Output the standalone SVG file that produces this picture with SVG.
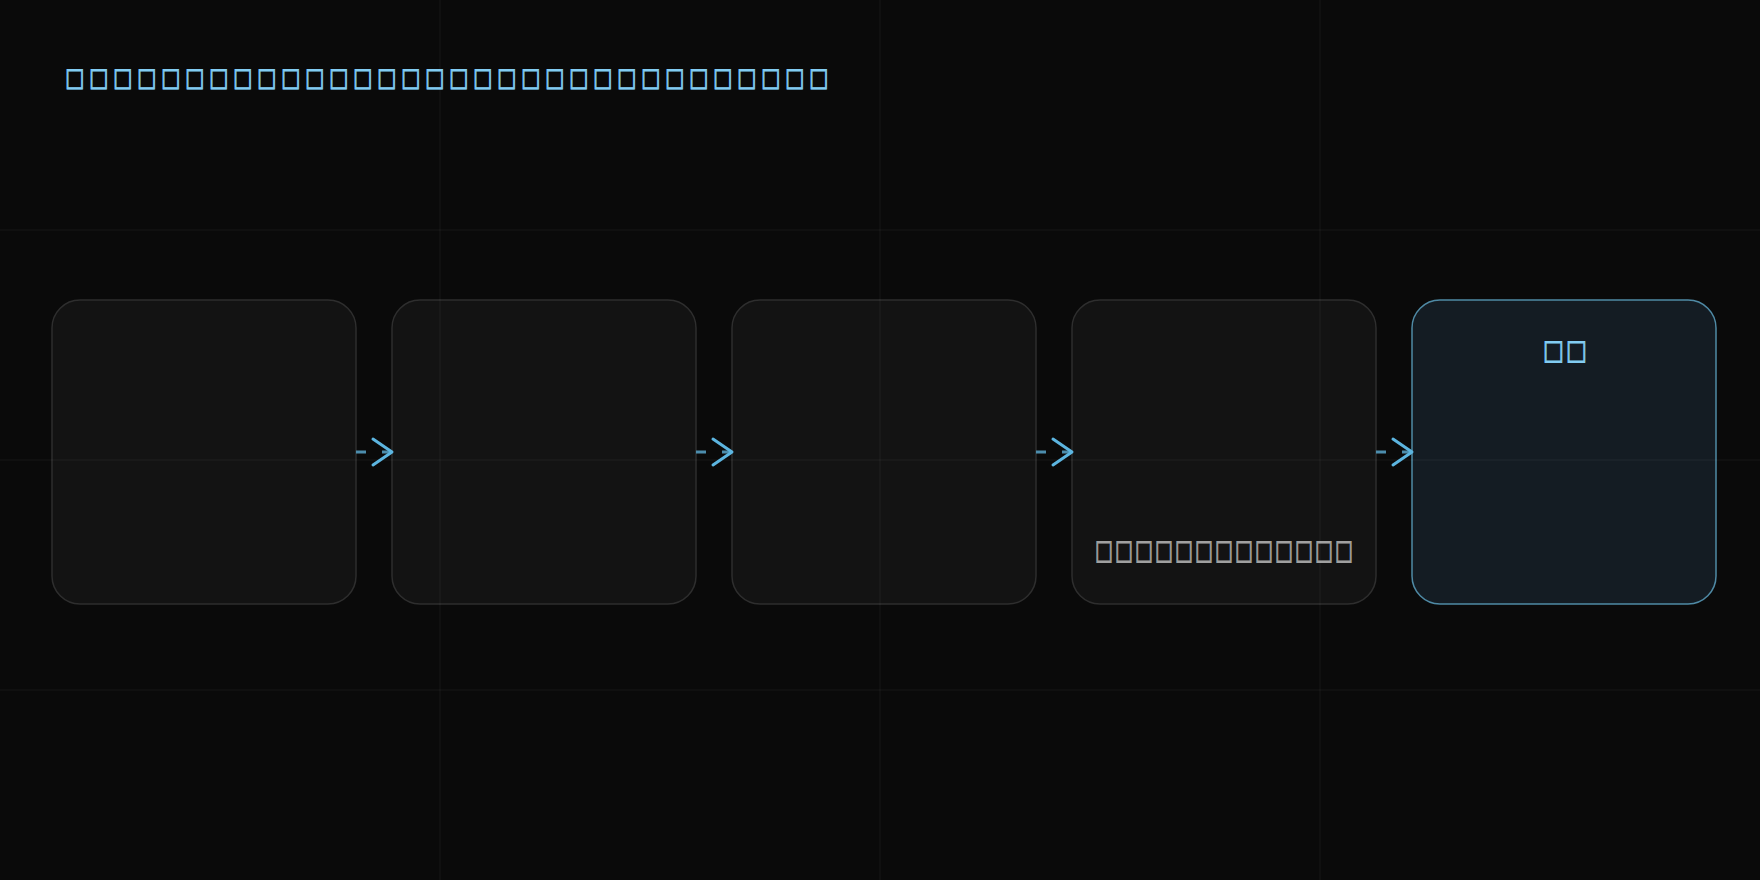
<svg xmlns="http://www.w3.org/2000/svg" width="1760" height="880" viewBox="0 0 1760 880">
<defs>
<style>
.bg{fill:#0a0a0a}
.grid line{stroke:rgba(255,255,255,0.06);stroke-width:1}
.node{fill:rgba(255,255,255,0.04);stroke:#2e2e2e;stroke-width:1.5}
.hl{fill:rgba(102,168,218,0.12);stroke:#4f8aa5;stroke-width:1.5}
.box{font-family:"DejaVu Sans",sans-serif;stroke-width:0.7px}
.title{font-size:20.5px;fill:#82ccf2;stroke:#82ccf2}
.label{font-size:19px;fill:#a0a0a0;stroke:#a0a0a0}
.ntitle{font-size:22px;fill:#82ccf2;stroke:#82ccf2}
.link{stroke:#4c8dad;stroke-width:3;stroke-dasharray:10 16;fill:none;marker-end:url(#chev)}
</style>
<marker id="chev" markerUnits="userSpaceOnUse" viewBox="0 0 26 32" refX="22" refY="16" markerWidth="26" markerHeight="32" orient="auto">
<path d="M3,3 L22,16 L3,29" fill="none" stroke="#5cb5e0" stroke-width="3" stroke-linecap="round" stroke-linejoin="round"/>
</marker>
</defs>
<rect class="bg" x="0" y="0" width="1760" height="880"/>
<g id="n1"><rect class="node" x="52" y="300" width="304" height="304" rx="28"/></g>
<g id="n2"><rect class="node" x="392" y="300" width="304" height="304" rx="28"/></g>
<g id="n3"><rect class="node" x="732" y="300" width="304" height="304" rx="28"/></g>
<g id="n4"><rect class="node" x="1072" y="300" width="304" height="304" rx="28"/>
<text class="box label" transform="translate(0,558.5) scale(1,1.42)" x="1095 1115 1135 1155 1175 1195 1215 1235 1255 1275 1295 1315 1335" y="0">□□□□□□□□□□□□□</text></g>
<g id="n5"><rect class="hl" x="1412" y="300" width="304" height="304" rx="28"/>
<text class="box ntitle" transform="translate(0,358.5) scale(1,1.24)" x="1543 1566" y="0">□□</text></g>
<g class="grid">
<line x1="440" y1="0" x2="440" y2="880"/><line x1="880" y1="0" x2="880" y2="880"/><line x1="1320" y1="0" x2="1320" y2="880"/>
<line x1="0" y1="230" x2="1760" y2="230"/><line x1="0" y1="460" x2="1760" y2="460"/><line x1="0" y1="690" x2="1760" y2="690"/>
</g>
<g id="connectors">
<line class="link" x1="356" y1="452" x2="392" y2="452"/>
<line class="link" x1="696" y1="452" x2="732" y2="452"/>
<line class="link" x1="1036" y1="452" x2="1072" y2="452"/>
<line class="link" x1="1376" y1="452" x2="1412" y2="452"/>
</g>
<text class="box title" transform="translate(0,86) scale(1,1.26)" x="65 89 113 137 161 185 209 233 257 281 305 329 353 377 401 425 449 473 497 521 545 569 593 617 641 665 689 713 737 761 785 809" y="0">□□□□□□□□□□□□□□□□□□□□□□□□□□□□□□□□</text>
</svg>
